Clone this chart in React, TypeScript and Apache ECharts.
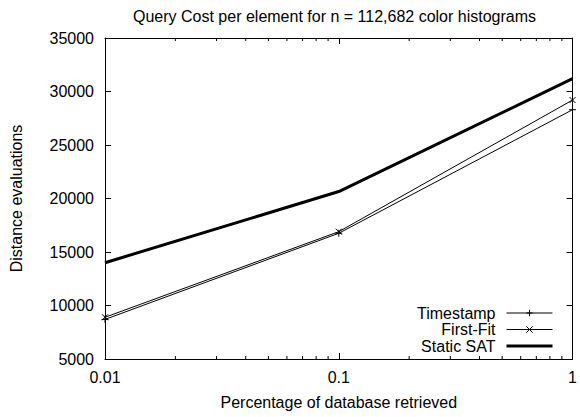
import React, { useEffect, useRef } from "react";
import * as echarts from "echarts";

const xValues = [0.01, 0.1, 1];
const timestamp = [8700, 16750, 28300];
const firstFit = [8900, 16900, 29200];
const staticSat = [14000, 20650, 31200];
const seriesNames = ["Timestamp", "First-Fit", "Static SAT"];
const minorTickValues = [
  0.02, 0.03, 0.04, 0.05, 0.06, 0.07, 0.08, 0.09,
  0.2, 0.3, 0.4, 0.5, 0.6, 0.7, 0.8, 0.9,
];

const titleText = "Query Cost per element for n = 112,682 color histograms";
const xName = "Percentage of database retrieved";
const yName = "Distance evaluations";

const FONT = "'Liberation Sans', Arial, Helvetica, sans-serif";
const PLUS = "path://M0,5L10,5M5,0L5,10";
const CROSS = "path://M0,0L10,10M10,0L0,10";
const Y_MIN = 5000;
const Y_MAX = 35000;

export default function App() {
  const ref = useRef<HTMLDivElement>(null);
  useEffect(() => {
    if (!ref.current) return;
    const chart = echarts.init(ref.current, null, { renderer: "svg" });
    const pairs = (ys: number[]) => xValues.map((x, i) => [x, ys[i]]);
    const tickCommon = {
      axisLine: { show: true, lineStyle: { color: "#000", width: 1 } },
      splitLine: { show: false },
    };
    const xCommon: any = {
      type: "log",
      logBase: 10,
      min: 0.01,
      max: 1,
      ...tickCommon,
      axisTick: { show: true, inside: true, length: 6, lineStyle: { color: "#000", width: 1 } },
    };
    const yCommon: any = {
      type: "value",
      min: Y_MIN,
      max: Y_MAX,
      interval: 5000,
      ...tickCommon,
      axisTick: { show: true, inside: true, length: 6, lineStyle: { color: "#000", width: 1 } },
    };
    const labelFont = { fontFamily: FONT, fontSize: 16, color: "#000" };
    chart.setOption({
      animation: false,
      backgroundColor: "#fff",
      textStyle: { fontFamily: FONT },
      title: {
        text: titleText,
        left: 128,
        top: 3,
        textStyle: { ...labelFont, fontWeight: "normal" },
      },
      grid: { left: 104, right: 7, top: 38, bottom: 58 },
      legend: {
        orient: "vertical",
        right: 26,
        top: 305,
        padding: 0,
        align: "right",
        itemWidth: 46,
        itemHeight: 8,
        itemGap: 0.5,
        data: [
          { name: seriesNames[0], lineStyle: { width: 1 }, itemStyle: { borderWidth: 1 } },
          { name: seriesNames[1], lineStyle: { width: 1 }, itemStyle: { borderWidth: 1 } },
          {
            name: seriesNames[2],
            lineStyle: { width: 3 },
            itemStyle: { color: "transparent", borderColor: "transparent", opacity: 0 },
          },
        ],
        textStyle: { ...labelFont, lineHeight: 16, padding: [0, 6, 0, 0] },
      },
      xAxis: [
        {
          ...xCommon,
          position: "bottom",
          name: xName,
          nameLocation: "middle",
          nameGap: 35,
          nameTextStyle: labelFont,
          axisLabel: {
            show: true,
            margin: 10,
            ...labelFont,
            formatter: (v: number) => String(v),
          },
        },
        { ...xCommon, position: "top", axisLabel: { show: false } },
      ],
      yAxis: [
        {
          ...yCommon,
          position: "left",
          name: yName,
          nameLocation: "middle",
          nameGap: 81,
          nameTextStyle: labelFont,
          axisLabel: { show: true, margin: 11, ...labelFont, formatter: (v: number) => String(v) },
        },
        { ...yCommon, position: "right", axisLabel: { show: false } },
      ],
      series: [
        {
          name: seriesNames[0],
          type: "line",
          data: pairs(timestamp),
          symbol: PLUS,
          symbolSize: 7,
          showAllSymbol: true,
          lineStyle: { color: "#000", width: 1 },
          itemStyle: { color: "transparent", borderColor: "#000", borderWidth: 1 },
        },
        {
          name: seriesNames[1],
          type: "line",
          data: pairs(firstFit),
          symbol: CROSS,
          symbolSize: 6,
          showAllSymbol: true,
          lineStyle: { color: "#000", width: 1 },
          itemStyle: { color: "transparent", borderColor: "#000", borderWidth: 1 },
        },
        {
          name: seriesNames[2],
          type: "line",
          data: pairs(staticSat),
          symbol: "none",
          lineStyle: { color: "#000", width: 3 },
          itemStyle: { color: "#000" },
        },
        {
          type: "custom",
          silent: true,
          data: minorTickValues.map((v) => [v]),
          encode: { x: 0 },
          renderItem: (params: any, api: any) => {
            const v = api.value(0);
            const b = api.coord([v, Y_MIN]);
            const t = api.coord([v, Y_MAX]);
            const style = { stroke: "#000", lineWidth: 1 };
            return {
              type: "group",
              children: [
                { type: "line", shape: { x1: b[0], y1: b[1], x2: b[0], y2: b[1] - 3 }, style },
                { type: "line", shape: { x1: t[0], y1: t[1], x2: t[0], y2: t[1] + 3 }, style },
              ],
            };
          },
        },
      ],
    });
    return () => chart.dispose();
  }, []);
  return (
    <div
      ref={ref}
      style={{ position: "fixed", left: 0, top: 0, width: 580, height: 417 }}
    />
  );
}
